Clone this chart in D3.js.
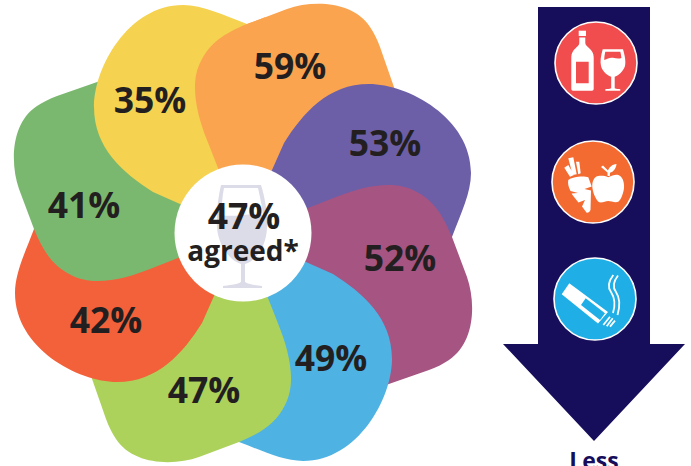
<!DOCTYPE html>
<html>
<head>
<meta charset="utf-8">
<script src="https://cdn.jsdelivr.net/npm/d3@7/dist/d3.min.js"></script>
<style>
html,body{margin:0;padding:0;background:#fff;overflow:hidden}
svg{display:block}
text{font-family:"Open Sans",sans-serif;font-weight:700}
</style>
</head>
<body>
<svg id="chart" width="691" height="466"></svg>
<script>
// Share agreeing per statement, clockwise from the orange petal
const petalValues = [59, 53, 52, 49, 47, 42, 41, 35];
const petalColors = ["#fba44f", "#6c5fa8", "#a65482", "#4eb2e3", "#acd25b", "#f26139", "#7bb86f", "#f5d24f"];
const overallValue = 47;
const overallCaption = "agreed*";
const arrowCaption = "Less";
const iconColors = ["#f14c4e", "#f36b31", "#1fafe6"];

const svg = d3.select("#chart");
const cx = 243, cy = 233, ink = "#231f20", navy = "#160d5b", white = "#fff";

// Two alternating petal outlines drawn around the flower centre
const squarePetal = "M0,0L-25,-65L-36,-93C-46,-118 -54,-150 -42,-172C-33,-190 -20,-199 4,-209L44,-224C70,-233 110,-232 127,-206C131,-200 134,-194 137,-186L152,-143C160,-120 155,-100 57,-43Z";
const roundPetal = "M0,0L-63,-29L-90,-41C-120,-60 -149,-85 -149,-126C-149,-165 -115,-228 -60,-228C-40,-228 -20,-218 4,-209L15,-180L15,-80Z";
const angle = d3.scaleLinear().domain([0, petalValues.length]).range([0, 360]);
const petalAngle = i => i % 2 === 0 ? angle(i) : angle(i + 1);
const petalShape = i => i % 2 === 0 ? squarePetal : roundPetal;

// Petals overlap in a ring, so the first one is repainted over the last
svg.append("defs").append("clipPath").attr("id", "ringClose")
  .append("rect").attr("x", 0).attr("y", 0).attr("width", 265).attr("height", 233);

const flower = svg.append("g").attr("transform", `translate(${cx},${cy})`);
petalValues.forEach((v, i) => {
  flower.append("path").attr("d", petalShape(i)).attr("fill", petalColors[i])
    .attr("transform", `rotate(${petalAngle(i)})`);
});
svg.append("g").attr("clip-path", "url(#ringClose)")
  .append("g").attr("transform", `translate(${cx},${cy}) rotate(${petalAngle(0)})`)
  .append("path").attr("d", petalShape(0)).attr("fill", petalColors[0]);

// Value labels sit off-centre inside their petals
const labelAt = [[290, 79], [385, 156], [400, 271], [331, 371], [204, 403], [106, 333], [84, 218], [150, 113]];
svg.append("g").selectAll("text").data(petalValues).join("text")
  .attr("x", (d, i) => labelAt[i][0]).attr("y", (d, i) => labelAt[i][1])
  .attr("text-anchor", "middle").attr("font-size", 35.5).attr("fill", ink)
  .text(d => `${d}%`);

// Centre disc with the faint wine glass behind the overall figure
svg.append("circle").attr("cx", cx).attr("cy", cy).attr("r", 68.5).attr("fill", white);
const glassTint = "#dcdbe8";
const glass = svg.append("g").attr("fill", glassTint);
glass.append("path").attr("d", "M221,185H261C265,198 268,214 267,228C266,248 255,261 245,264V282C249,285 257,285 262,286V288H223V286C228,285 237,285 241,282V264C231,261 219,248 217,228C216,214 218,198 221,185Z");
glass.append("path").attr("fill", white).attr("d", "M224,188H258C260,197 262,206 263,215C250,212 235,218 221,215C222,206 222,197 224,188Z");

svg.append("text").attr("x", 244).attr("y", 229).attr("text-anchor", "middle")
  .attr("font-size", 35.5).attr("fill", ink).text(`${overallValue}%`);
svg.append("text").attr("x", 243).attr("y", 261).attr("text-anchor", "middle")
  .attr("font-size", 28).attr("fill", ink).text(overallCaption);

// Downward arrow
svg.append("path").attr("fill", navy)
  .attr("d", "M538,7H650V344H685L594,441L503,344H538Z");
svg.append("text").attr("x", 594).attr("y", 469).attr("text-anchor", "middle")
  .attr("font-size", 23).attr("fill", navy).text(arrowCaption);

// Icon badges on the arrow
const badgeCentres = [[596, 63], [593, 182], [595, 299]];
svg.append("g").selectAll("circle").data(iconColors).join("circle")
  .attr("cx", (d, i) => badgeCentres[i][0]).attr("cy", (d, i) => badgeCentres[i][1])
  .attr("r", 41).attr("fill", d => d).attr("stroke", white).attr("stroke-width", 1.6);

const glyphs = svg.append("g").attr("fill", white);
// bottle and glass
glyphs.append("path").attr("d", "M578.7,30.7H586V36H578.7Z");
glyphs.append("path").attr("fill-rule", "evenodd").attr("d", "M579.3,37.5H585.3V43C585.3,47 593.7,49 593.7,57V89Q593.7,90.7 592,90.7H573Q571.3,90.7 571.3,89V57C571.3,49 579.3,47 579.3,43ZM576,61.7V83.3H588.7V61.7Z");
glyphs.append("path").attr("fill-rule", "evenodd").attr("d", "M602.7,49.3H623C625,56 626,62 625,66C623,72 618,76 614.7,76.8V88.3C616.5,89 619,89 620.3,89.3V90.7H605.3V89.3C607,89 609.5,89 611.2,88.3V76.8C608,76 602.5,72 601,66C600,62 600.7,56 602.7,49.3ZM605.3,51.7C604.6,54.5 604.2,57.5 604.3,60C608,58.2 610,57.2 613,57.8C616,58.5 619,59 621.4,58C621.2,56 620.8,53.5 620.3,51.7Z");
// carrot
glyphs.append("path").attr("d", "M568.3,180C572,176.5 584,175.5 588.3,177.3L591.7,186.5L584.5,189L591,190.5L590.5,210Q589,213.5 586.7,212.7L582,206.5L585,200L578.5,202.5C575,198 572.5,195 571.5,193.5L578,193L570.5,191C568.5,187 567.5,183 568.3,180Z");
glyphs.append("path").attr("d", "M564.3,167.7L568.3,165L574,175L570,176.7ZM568.3,158.3L573.3,157.3L576.7,174.3L572.7,175ZM576,161.7H579.3L580.7,173.3L578.3,174.3Z");
// apple
glyphs.append("path").attr("d", "M608.3,177.3C612,175.5 615,174.5 618.3,175C622.5,176.5 624.5,182 624,188C623.5,193 621,200 618.3,201.7C615,203 611,201 608.3,201C605.5,201 602.5,203 599.3,202.3C596.5,200.5 593,194 592.3,187C592,181 594.5,176.5 598.3,176C601.5,175.5 605,175.8 608.3,177.3Z");
glyphs.append("path").attr("d", "M601,167L603,165.5L608,170.5C609.5,167 612,164.5 616.5,164C616,168.5 613.5,172 610,172.7L609.8,176H607.6L607.5,172.5Z");
// cigarette with its filter, bands and smoke
glyphs.append("path").attr("fill-rule", "evenodd").attr("d", "M569.3,283.3L608,312L598,323.5L561.7,294.3ZM585.7,298.3L581,305L600,320L605,313.3Z");
glyphs.append("g").attr("stroke", white).attr("stroke-width", 1.8).selectAll("line")
  .data([[610, 316.7, 603.3, 325], [612.7, 318.3, 606.7, 326.3], [615, 320.7, 610, 326.7]]).join("line")
  .attr("x1", d => d[0]).attr("y1", d => d[1]).attr("x2", d => d[2]).attr("y2", d => d[3]);
const smoke = svg.append("g").attr("fill", "none").attr("stroke", white).attr("stroke-width", 1.8);
smoke.append("path").attr("d", "M613.3,275C608,282 608,288 611,292C615,298 615.5,305 613,313");
smoke.append("path").attr("d", "M618,275.5C613,282 613,288 616,292C620,298 620.5,305 617.5,315");
</script>
</body>
</html>
